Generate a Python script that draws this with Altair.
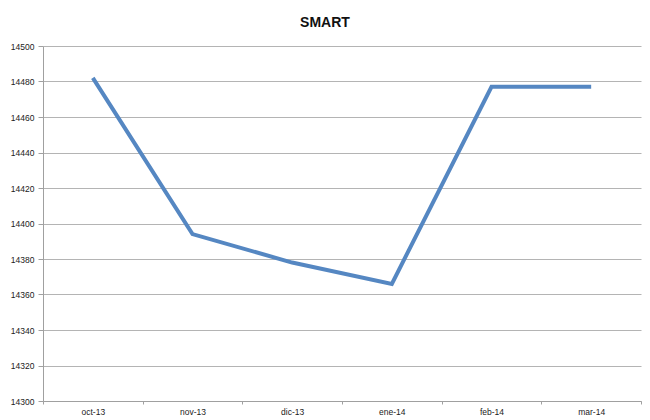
import altair as alt
import pandas as pd

months = ["oct-13", "nov-13", "dic-13", "ene-14", "feb-14", "mar-14"]
values = [14482, 14394, 14378, 14366, 14477, 14477]

df = pd.DataFrame({"mes": months, "valor": values})

W, H = 598, 355
PAD = {"left": 35, "top": 38, "right": 1, "bottom": 15}
FONT = "Liberation Sans"

chart = alt.Chart(df).mark_line(color="#5587C2", strokeWidth=4, strokeCap="butt", clip=False).encode(
    x=alt.X("mes:O", sort=months, title=None,
            scale=alt.Scale(type="band", paddingInner=0, paddingOuter=0),
            axis=alt.Axis(labelAngle=0, tickBand="extent", grid=False, labelFont=FONT,
                          labelFontSize=8.5, labelColor="#222", domainColor="#a0a0a0",
                          tickColor="#a0a0a0", tickSize=3, labelPadding=3)),
    y=alt.Y("valor:Q", title=None,
            scale=alt.Scale(domain=[14300, 14500], nice=False, zero=False),
            axis=alt.Axis(values=list(range(14300, 14501, 20)), format="d", labelFont=FONT,
                          labelFontSize=8.5, labelColor="#222", gridColor="#b4b4b4", gridWidth=1,
                          domainColor="#a0a0a0", tickColor="#a0a0a0", tickSize=5, labelPadding=4)),
).properties(
    width=W, height=H,
    title=alt.TitleParams("SMART", font=FONT, fontSize=14, fontWeight="bold",
                          color="#111", anchor="middle", offset=12, dx=-17),
    padding=PAD, autosize=alt.AutoSizeParams(type="none"),
    background="white",
).configure_view(stroke=None)

chart.save("out.html", embed_options={"renderer": "svg", "actions": False})
